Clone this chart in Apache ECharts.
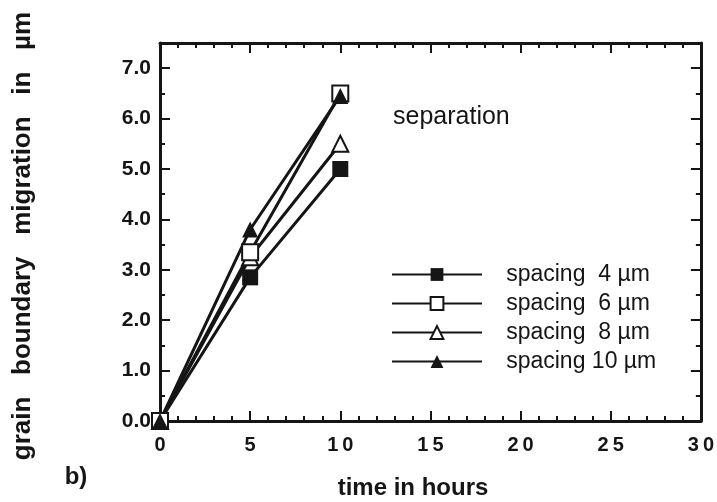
<!DOCTYPE html>
<html lang="en">
<head>
  <meta charset="UTF-8">
  <title>grain boundary migration</title>
  <script src="https://cdn.jsdelivr.net/npm/echarts@6/dist/echarts.min.js"></script>
</head>
<body style="margin: 0; background: #fff;">
<div id="main" style="width: 717px; height: 502px;"></div>
<script type="text/javascript">
  // values
  const times = [0, 5, 10]
  const names = ['spacing 4 µm', 'spacing 6 µm', 'spacing 8 µm', 'spacing 10 µm']
  const spacing4 = [0, 2.85, 5.0]
  const spacing6 = [0, 3.35, 6.5]
  const spacing8 = [0, 3.25, 5.5]
  const spacing10 = [0, 3.8, 6.45]
  const xTicks = [0, 5, 10, 15, 20, 25, 30]
  const yTicks = [0, 1, 2, 3, 4, 5, 6, 7]

  const ink = '#151515'
  const font = 'Liberation Sans, Arial, sans-serif'

  const myChart = echarts.init(document.getElementById('main'))

  const pairs = vals => times.map((t, i) => [t, vals[i]])

  function makeSeries(name, vals, symbol, filled) {
    return {
      name: name,
      type: 'line',
      data: pairs(vals),
      symbol: symbol,
      symbolSize: 16,
      showSymbol: true,
      lineStyle: {color: ink, width: 3},
      itemStyle: {
        color: filled ? ink : '#fff',
        borderColor: ink,
        borderWidth: filled ? 0 : 2
      },
      emphasis: {disabled: true}
    }
  }

  const baseX = {
    type: 'value',
    min: xTicks[0],
    max: xTicks[xTicks.length - 1],
    interval: 5,
    axisLine: {show: true, onZero: false, lineStyle: {color: ink, width: 3}},
    axisTick: {show: true, inside: true, length: 10, lineStyle: {color: ink, width: 2}},
    minorTick: {show: true, splitNumber: 5, length: 5, lineStyle: {color: ink, width: 2}},
    splitLine: {show: false}
  }
  const baseY = {
    type: 'value',
    min: 0,
    max: 7.5,
    interval: 1,
    axisLine: {show: true, onZero: false, lineStyle: {color: ink, width: 3}},
    axisTick: {show: true, inside: true, length: 10, lineStyle: {color: ink, width: 2}},
    minorTick: {show: true, splitNumber: 2, length: 5, lineStyle: {color: ink, width: 2}},
    splitLine: {show: false}
  }

  const option = {
    animation: false,
    backgroundColor: '#fff',
    grid: {left: 160, right: 12, top: 43, bottom: 81},
    legend: {
      left: 386,
      top: 258,
      orient: 'vertical',
      itemWidth: 90,
      itemHeight: 16,
      itemGap: 6,
      selectedMode: false,
      data: names,
      formatter: n => '   ' + n.replace(/ (\d) /, '  $1 '),
      textStyle: {color: ink, fontSize: 23, fontFamily: font}
    },
    xAxis: [
      Object.assign({}, baseX, {
        position: 'bottom',
        axisLabel: {
          margin: 14,
          color: ink,
          fontSize: 20,
          fontWeight: 'bold',
          fontFamily: font,
          formatter: v => xTicks.includes(v) ? String(v).split('').join('\u2009') : ''
        }
      }),
      Object.assign({}, baseX, {position: 'top', axisLabel: {show: false}})
    ],
    yAxis: [
      Object.assign({}, baseY, {
        position: 'left',
        axisLabel: {
          margin: 9,
          color: ink,
          fontSize: 21,
          fontWeight: 'bold',
          fontFamily: font,
          formatter: v => yTicks.includes(v) ? v.toFixed(1) : ''
        }
      }),
      Object.assign({}, baseY, {position: 'right', axisLabel: {show: false}})
    ],
    graphic: [
      {
        type: 'text', x: 23, y: 236, rotation: Math.PI / 2,
        style: {
          text: 'grain   boundary   migration   in   µm',
          fill: ink, fontSize: 26, fontWeight: 'bold', fontFamily: font,
          align: 'center', verticalAlign: 'middle'
        }
      },
      {
        type: 'text', x: 76, y: 477,
        style: {
          text: 'b)', fill: ink, fontSize: 24, fontWeight: 'bold', fontFamily: font,
          align: 'center', verticalAlign: 'middle'
        }
      },
      {
        type: 'text', x: 413, y: 488,
        style: {
          text: 'time in hours', fill: ink, fontSize: 24, fontWeight: 'bold', fontFamily: font,
          align: 'center', verticalAlign: 'middle'
        }
      },
      {
        type: 'text', x: 393, y: 117,
        style: {
          text: 'separation', fill: ink, fontSize: 25, fontFamily: font,
          align: 'left', verticalAlign: 'middle'
        }
      }
    ],
    // spacing 8 drawn first so its marker sits under the open square, as in the figure
    series: [
      makeSeries(names[2], spacing8, 'triangle', false),
      makeSeries(names[0], spacing4, 'rect', true),
      makeSeries(names[1], spacing6, 'rect', false),
      makeSeries(names[3], spacing10, 'triangle', true)
    ]
  }

  myChart.setOption(option)
</script>
</body>
</html>
